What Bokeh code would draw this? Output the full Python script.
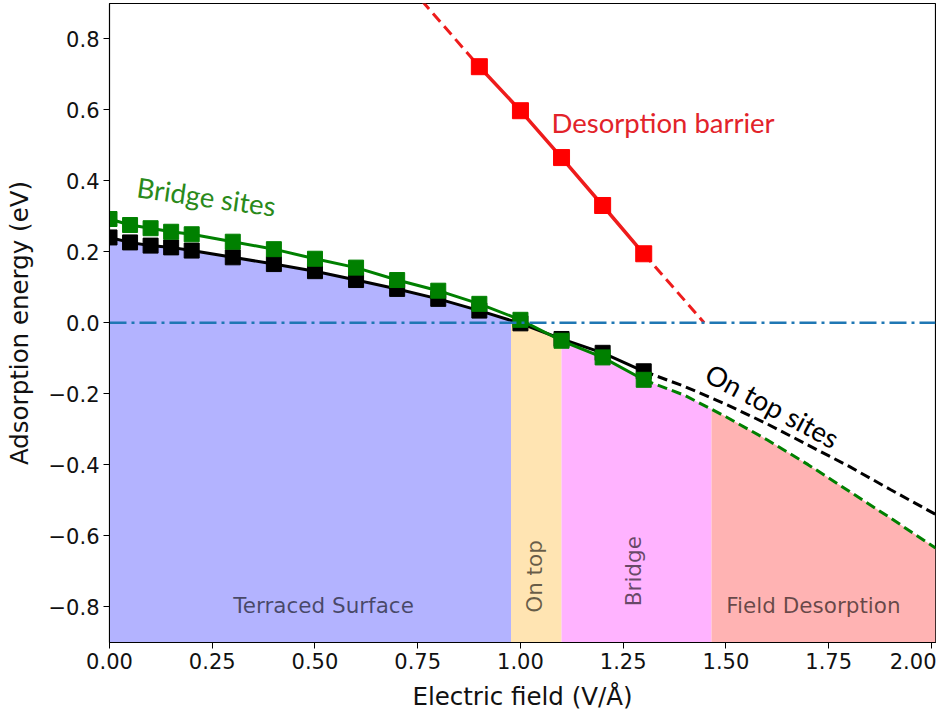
import numpy as np
from bokeh.plotting import figure
from bokeh.models import Range1d, FixedTicker, CustomJSTickFormatter, Span
from bokeh.core.properties import value
from bokeh.embed import file_html
from bokeh.resources import INLINE

# ---- data ----
field = [0.0, 0.05, 0.1, 0.15, 0.2, 0.3, 0.4, 0.5, 0.6, 0.7, 0.8, 0.9, 1.0, 1.1, 1.2, 1.3]
ontop_E = [0.240, 0.226, 0.217, 0.212, 0.203, 0.184, 0.165, 0.145, 0.120, 0.095,
           0.067, 0.034, -0.002, -0.046, -0.085, -0.137]
bridge_E = [0.292, 0.275, 0.266, 0.256, 0.249, 0.228, 0.207, 0.180, 0.155, 0.120,
            0.090, 0.053, 0.008, -0.051, -0.098, -0.161]

ext_field = [1.3, 1.4, 1.5, 1.6, 1.7, 1.8, 1.9, 2.01]
ontop_ext_E = [-0.137, -0.180, -0.230, -0.285, -0.345, -0.405, -0.470, -0.540]
bridge_ext_E = [-0.161, -0.205, -0.265, -0.330, -0.400, -0.475, -0.550, -0.635]

barrier_field = [0.9, 1.0, 1.1, 1.2, 1.3]
barrier_E = [0.721, 0.597, 0.465, 0.330, 0.194]
barrier_ext_hi_field = [0.76, 0.9]
barrier_ext_hi_E = [0.907, 0.721]
barrier_ext_lo_field = [1.3, 1.447]
barrier_ext_lo_E = [0.194, 0.0]

region_names = ["Terraced Surface", "On top", "Bridge", "Field Desorption"]
region_edges = [0.0, 0.977, 1.1, 1.465, 2.01]
region_colors = ["#b3b3ff", "#ffe4b2", "#ffb3ff", "#ffb3b3"]
region_label_x = [0.521, 1.035, 1.274, 1.713]
region_label_y = [-0.797, -0.715, -0.70, -0.797]
region_label_angle = [0.0, np.pi / 2, np.pi / 2, 0.0]

x_ticks = [0.0, 0.25, 0.5, 0.75, 1.0, 1.25, 1.5, 1.75, 2.0]
y_ticks = [-0.8, -0.6, -0.4, -0.2, 0.0, 0.2, 0.4, 0.6, 0.8]

X_MIN, X_MAX = 0.0, 2.01
Y_MIN, Y_MAX = -0.901, 0.899

p = figure(width=936, height=719, output_backend="svg", toolbar_location=None,
           x_range=Range1d(X_MIN, X_MAX), y_range=Range1d(Y_MIN, Y_MAX),
           min_border_left=109, min_border_right=1, min_border_top=3, min_border_bottom=77)
p.grid.visible = False
p.outline_line_color = "black"
p.outline_line_width = 1.2
p.background_fill_color = "white"
p.border_fill_color = "white"

# ---- shaded regions under the curves ----
black_cx = field + ext_field[1:]
black_cy = ontop_E + ontop_ext_E[1:]
green_cx = field + ext_field[1:]
green_cy = bridge_E + bridge_ext_E[1:]
for i in range(4):
    lo, hi = region_edges[i], region_edges[i + 1]
    cx, cy = (black_cx, black_cy) if i == 0 else (green_cx, green_cy)
    xs = [lo] + [x for x in cx if lo < x < hi] + [hi]
    ys = list(np.interp(xs, cx, cy))
    p.varea(x=xs, y1=[Y_MIN] * len(xs), y2=ys, fill_color=region_colors[i], fill_alpha=1.0)

zero = Span(location=0, dimension="width", line_color="#1f77b4", line_width=2.5,
            line_dash="17 5 3 5", level="glyph")
p.add_layout(zero)

# ---- on top (black) ----
p.line(ext_field, ontop_ext_E, line_color="black", line_width=3, line_dash="10 5")
p.line(field, ontop_E, line_color="black", line_width=3)
p.scatter(field, ontop_E, marker="square", size=15, color="black")

# ---- bridge (green) ----
p.line(ext_field, bridge_ext_E, line_color="#008000", line_width=3, line_dash="10 5")
p.line(field, bridge_E, line_color="#008000", line_width=3)
p.scatter(field, bridge_E, marker="square", size=15, color="#008000")

# ---- desorption barrier (red) ----
p.line(barrier_ext_hi_field, barrier_ext_hi_E, line_color="#ee1c1c", line_width=3, line_dash="11 6")
p.line(barrier_ext_lo_field, barrier_ext_lo_E, line_color="#ee1c1c", line_width=3, line_dash="11 6")
p.line(barrier_field, barrier_E, line_color="#ee1c1c", line_width=3.5)
p.scatter(barrier_field, barrier_E, marker="square", size=16, color="#ff0000")

# ---- labels ----
p.text(x=[1.347], y=[0.565], text=["Desorption barrier"], text_color="#e2232a",
       text_font=value("Lato"), text_font_size="27.5px", text_align="center", text_baseline="middle")
p.text(x=[0.236], y=[0.355], text=["Bridge sites"], text_color="#2a8a1a", angle=-0.14,
       text_font=value("Lato"), text_font_size="27.5px", text_align="center", text_baseline="middle")
p.text(x=[1.613], y=[-0.234], text=["On top sites"], text_color="black", angle=-0.49,
       text_font=value("Lato"), text_font_size="27.5px", text_align="center", text_baseline="middle")

p.text(x=region_label_x, y=region_label_y, text=region_names, angle=region_label_angle,
       text_color="black", text_alpha=0.6, text_font=value("DejaVu Sans"), text_font_size="21.5px",
       text_align="center", text_baseline="middle")

# ---- axes ----
p.xaxis.ticker = FixedTicker(ticks=x_ticks)
p.yaxis.ticker = FixedTicker(ticks=y_ticks)
p.xaxis.formatter = CustomJSTickFormatter(code="return tick.toFixed(2);")
p.yaxis.formatter = CustomJSTickFormatter(
    code="return (tick < -1e-9 ? '\u2212' : '') + Math.abs(tick).toFixed(1);")
for ax in (p.xaxis, p.yaxis):
    ax.major_label_text_font = "DejaVu Sans"
    ax.major_label_text_font_size = "21px"
    ax.major_label_text_color = "#111111"
    ax.axis_label_text_font = "DejaVu Sans"
    ax.axis_label_text_font_size = "24.5px"
    ax.axis_label_text_font_style = "normal"
    ax.axis_label_text_color = "#111111"
    ax.major_tick_out = 6
    ax.major_tick_in = 0
    ax.minor_tick_out = 0
    ax.minor_tick_in = 0
    ax.axis_line_color = "black"
    ax.major_tick_line_color = "black"
p.xaxis.axis_label = "Electric field (V/Å)"
p.yaxis.axis_label = "Adsorption energy (eV)"
p.xaxis.major_label_standoff = 4
p.yaxis.major_label_standoff = 4
p.xaxis.axis_label_standoff = 10
p.yaxis.axis_label_standoff = 12

open("out.html", "w").write(file_html(p, INLINE))
